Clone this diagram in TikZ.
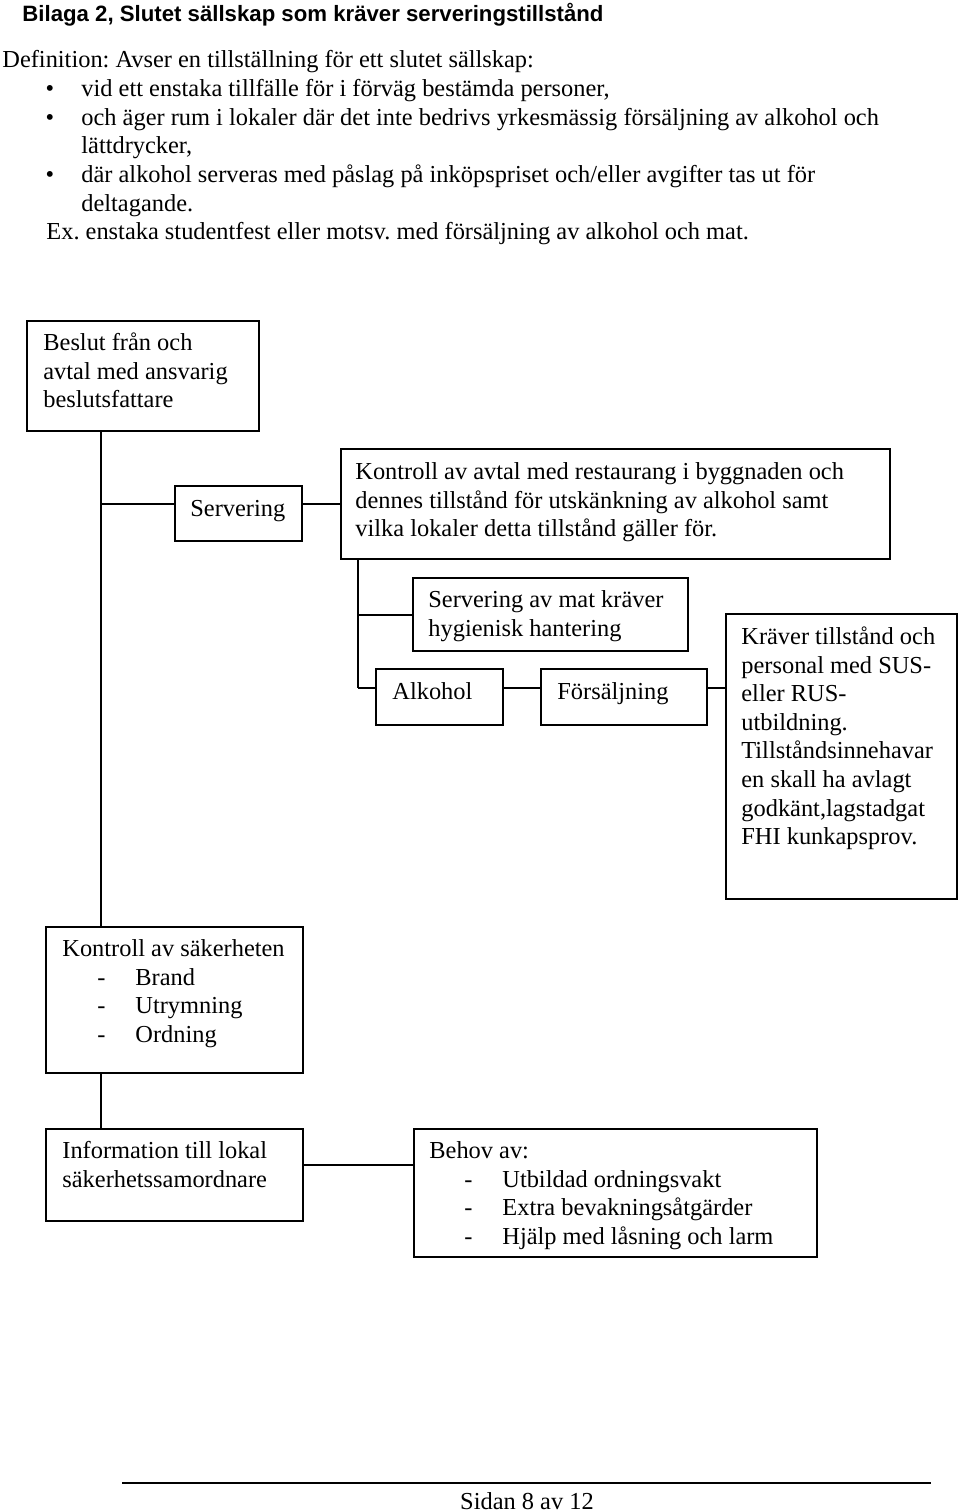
\documentclass[tikz,border=0pt]{standalone}
\usepackage{fontspec}
\setmainfont{Liberation Serif}
\newfontfamily\titlefont{Liberation Sans}
\usetikzlibrary{fit}
\frenchspacing
\newcommand\bodyfont{\fontsize{12.2}{14.3}\selectfont}
\newcommand\itm[1]{\makebox[36.5pt][l]{\hspace*{17.5pt}-}#1}
\begin{document}
\begin{tikzpicture}[x=0.5pt,y=-0.5pt,
  box/.style={draw, line width=1pt, inner sep=0pt},
  txt/.style={anchor=north west, inner sep=0pt, align=left, font=\bodyfont},
  line/.style={anchor=base west, inner sep=0pt, font=\bodyfont},
  conn/.style={line width=1pt}]
\useasboundingbox (0,0) rectangle (960,1512);
% header text
\node[anchor=base west, inner sep=0pt, font=\titlefont\bfseries\fontsize{11.1}{13}\selectfont] (title) at (22,21) {Bilaga 2, Slutet sällskap som kräver serveringstillstånd};
\node[line] (def) at (2,67) {Definition: Avser en tillställning för ett slutet sällskap:};
\node[anchor=base, inner sep=0pt, font=\bodyfont] (b1) at (50,96) {\textbullet};
\node[line] (l1) at (81,96) {vid ett enstaka tillfälle för i förväg bestämda personer,};
\node[anchor=base, inner sep=0pt, font=\bodyfont] (b2) at (50,125) {\textbullet};
\node[line] (l2) at (81,125) {och äger rum i lokaler där det inte bedrivs yrkesmässig försäljning av alkohol och};
\node[line] (l2b) at (81,153) {lättdrycker,};
\node[anchor=base, inner sep=0pt, font=\bodyfont] (b3) at (50,182) {\textbullet};
\node[line] (l3) at (81,182) {där alkohol serveras med påslag på inköpspriset och/eller avgifter tas ut för};
\node[line] (l3b) at (81,211) {deltagande.};
\node[line] (ex) at (46,239) {Ex. enstaka studentfest eller motsv. med försäljning av alkohol och mat.};

% boxes
\node[box, fit={(27,321) (259,431)}] (beslut) {};
\node[box, fit={(175,486) (302,541)}] (serv) {};
\node[box, fit={(341,449) (890,559)}] (avtal) {};
\node[box, fit={(413,578) (688,651)}] (mat) {};
\node[box, fit={(376,669) (503,725)}] (alk) {};
\node[box, fit={(541,669) (707,725)}] (fors) {};
\node[box, fit={(726,614) (957,899)}] (krav) {};
\node[box, fit={(46,927) (303,1073)}] (ksak) {};
\node[box, fit={(46,1129) (303,1221)}] (info) {};
\node[box, fit={(414,1129) (817,1257)}] (behov) {};

% box texts
\node[txt] (tbeslut) at (43,330) {\strut Beslut från och\\avtal med ansvarig\\beslutsfattare};
\node[line] (tserv) at (190,516) {Servering};
\node[txt] (tavtal) at (355,459) {\strut Kontroll av avtal med restaurang i byggnaden och\\dennes tillstånd för utskänkning av alkohol samt\\vilka lokaler detta tillstånd gäller för.};
\node[txt] (tmat) at (428,587) {\strut Servering av mat kräver\\hygienisk hantering};
\node[line] (talk) at (392,699) {Alkohol};
\node[line] (tfors) at (557,699) {Försäljning};
\node[txt] (tkrav) at (741,624) {\strut Kräver tillstånd och\\personal med SUS-\\eller RUS-\\utbildning.\\Tillståndsinnehavar\\en skall ha avlagt\\godkänt,lagstadgat\\FHI kunkapsprov.};
\node[txt] (tksak) at (62,936) {\strut Kontroll av säkerheten\\\itm{Brand}\\\itm{Utrymning}\\\itm{Ordning}};
\node[txt] (tinfo) at (62,1138) {\strut Information till lokal\\säkerhetssamordnare};
\node[txt] (tbehov) at (429,1138) {\strut Behov av:\\\itm{Utbildad ordningsvakt}\\\itm{Extra bevakningsåtgärder}\\\itm{Hjälp med låsning och larm}};

% helper coordinates
\coordinate (spine) at (101,0);
\coordinate (sub) at (358,0);
\coordinate (alkrow) at (0,688);
\coordinate (inforow) at (0,1165);

% connectors
\draw[conn] (beslut.south -| spine) -- (ksak.north -| spine);
\draw[conn] (ksak.south -| spine) -- (info.north -| spine);
\draw[conn] (spine |- avtal.west) -- (serv.west |- avtal.west);
\draw[conn] (serv.east |- avtal.west) -- (avtal.west);
\draw[conn] (avtal.south -| sub) -- (sub |- alkrow);
\draw[conn] (sub |- mat.west) -- (mat.west);
\draw[conn] (sub |- alkrow) -- (alk.west |- alkrow);
\draw[conn] (alk.east |- alkrow) -- (fors.west |- alkrow);
\draw[conn] (fors.east |- alkrow) -- (krav.west |- alkrow);
\draw[conn] (info.east |- inforow) -- (behov.west |- inforow);

% footer
\coordinate (fl) at (122,1483);
\coordinate (fr) at (931,1483);
\draw[line width=0.7pt] (fl) -- (fr);
\node[anchor=base, inner sep=0pt, font=\bodyfont] (page) at (527,1509) {Sidan 8 av 12};
\end{tikzpicture}
\end{document}
